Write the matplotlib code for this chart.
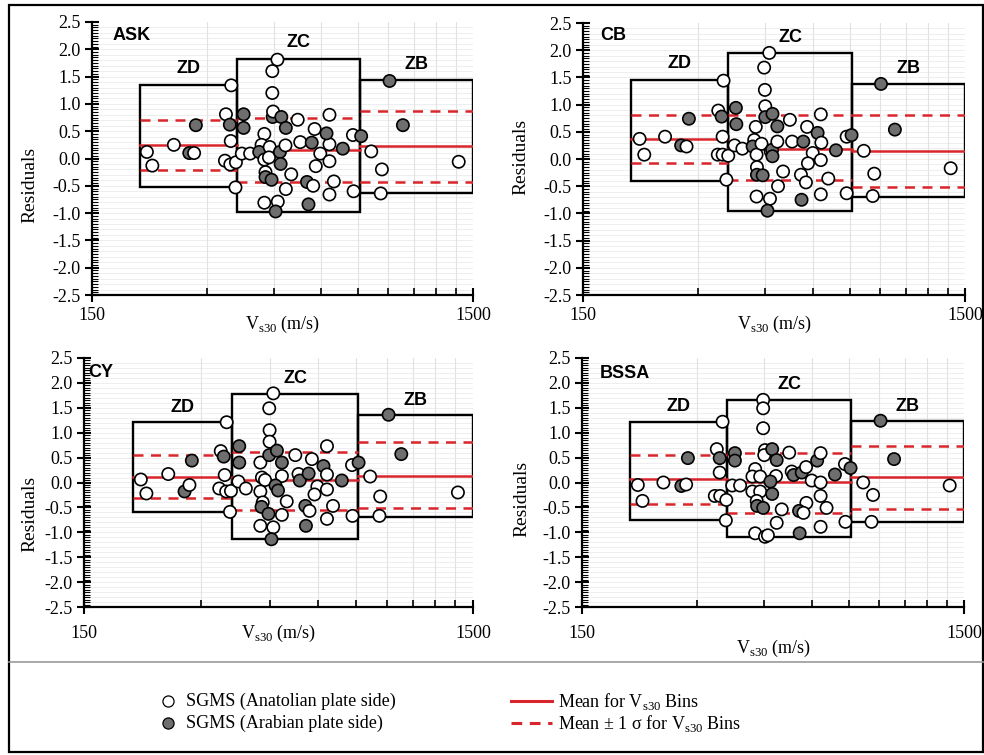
import matplotlib
matplotlib.use("Agg")
import matplotlib.pyplot as plt
from matplotlib.lines import Line2D
from matplotlib.patches import Rectangle
from matplotlib.ticker import (FixedLocator, FixedFormatter, MultipleLocator,
                               NullFormatter, FormatStrFormatter)
import numpy as np

SERIF = "Liberation Serif"
SANS = "Liberation Sans"
RED = "#d9262c"
GRAY = "#6e6e6e"

plt.rcParams["font.family"] = SERIF
plt.rcParams["mathtext.fontset"] = "custom"
plt.rcParams["mathtext.rm"] = SERIF

# --------------------------------------------------------------------------- #
# Data
# --------------------------------------------------------------------------- #
BIN_NAMES = ["ZD", "ZC", "ZB"]
BIN_EDGES = [200, 360, 760, 1500]
X_TICKS = [150, 1500]
X_MINOR = [300, 450, 600, 750, 900, 1050, 1200, 1350]

# ASK
ASK_VS30 = [209, 216, 246, 281, 270, 278, 348, 337, 345, 347, 335, 346, 358, 357,
            375, 375, 371, 390, 425, 418, 412, 425, 439, 437, 447, 448, 471, 446,
            446, 460, 467, 469, 483, 484, 428, 428, 444, 500, 484, 520, 528, 566,
            576, 596, 580, 630, 630, 619, 630, 683, 550, 571, 647, 630, 555, 425,
            461, 455, 726, 763, 729, 906, 982, 811, 865, 859, 1376]
ASK_RES = [0.12, -0.13, 0.25, 0.61, 0.10, 0.10, 1.34, 0.81, 0.62, 0.32, -0.04, -0.11, -0.07, -0.53,
           0.81, 0.56, 0.09, 0.09, 0.45, 0.25, 0.12, -0.02, 0.21, 0.02, 0.76, 0.86, 0.76, 1.20,
           1.60, 1.81, 0.12, -0.10, 0.24, 0.56, -0.25, -0.34, -0.39, -0.29, -0.56, 0.71, 0.30, 0.29,
           0.54, 0.09, -0.14, 0.26, -0.05, 0.46, 0.80, 0.18, -0.43, -0.50, -0.42, -0.66, -0.84, -0.81,
           -0.79, -0.97, 0.43, 0.41, -0.60, 1.42, 0.61, 0.13, -0.20, -0.64, -0.06]
ASK_ARAB = [0, 0, 0, 1, 1, 0, 0, 0, 1, 0, 0, 0, 0, 0,
            1, 1, 0, 0, 0, 0, 1, 0, 0, 0, 1, 0, 1, 0,
            0, 0, 1, 1, 0, 1, 0, 1, 1, 0, 0, 0, 0, 1,
            0, 0, 0, 0, 0, 1, 0, 1, 1, 0, 0, 0, 1, 0,
            0, 1, 0, 1, 0, 1, 1, 0, 0, 0, 0]
ASK_MEAN = [0.25, 0.15, 0.22]
ASK_SIG_HI = [0.70, 0.74, 0.87]
ASK_SIG_LO = [-0.21, -0.43, -0.43]
ASK_TOP = [1.35, 1.82, 1.43]
ASK_BOT = [-0.52, -0.98, -0.63]

# CB
CB_VS30 = [211, 217, 246, 284, 271, 280, 339, 346, 348, 350, 338, 348, 360, 356,
           377, 378, 374, 392, 425, 421, 417, 427, 440, 428, 428, 443, 427, 463,
           456, 449, 447, 461, 450, 450, 470, 465, 469, 470, 484, 484, 522, 501,
           486, 529, 566, 558, 575, 560, 579, 599, 582, 617, 629, 631, 629, 658,
           629, 689, 735, 757, 735, 904, 983, 815, 868, 860, 1376]
CB_RES = [0.37, 0.08, 0.41, 0.74, 0.25, 0.23, 0.89, 0.78, 0.41, 1.44, 0.08, 0.08, 0.06, -0.38,
          0.94, 0.64, 0.25, 0.19, 0.59, 0.35, 0.23, 0.08, 0.28, -0.15, -0.29, -0.30, -0.69, -0.73,
          -0.95, 1.27, 1.68, 1.95, 0.97, 0.77, 0.83, 0.14, 0.17, 0.05, 0.60, 0.32, 0.72, -0.23,
          -0.50, 0.32, 0.32, -0.29, -0.43, -0.75, 0.59, 0.11, -0.08, 0.48, 0.82, 0.30, -0.02, -0.36,
          -0.65, 0.16, 0.41, 0.44, -0.63, 1.38, 0.54, 0.15, -0.27, -0.68, -0.17]
CB_ARAB = [0, 0, 0, 1, 1, 0, 0, 1, 0, 0, 0, 0, 0, 0,
           1, 1, 0, 0, 0, 0, 1, 0, 0, 0, 1, 1, 0, 0,
           1, 0, 0, 0, 0, 1, 1, 0, 1, 1, 1, 0, 0, 0,
           0, 0, 1, 0, 0, 1, 0, 0, 0, 1, 0, 0, 0, 0,
           0, 1, 0, 1, 0, 1, 1, 0, 0, 0, 0]
CB_MEAN = [0.37, 0.19, 0.14]
CB_SIG_HI = [0.81, 0.81, 0.81]
CB_SIG_LO = [-0.08, -0.39, -0.52]
CB_TOP = [1.45, 1.94, 1.37]
CB_BOT = [-0.40, -0.95, -0.69]

# CY
CY_VS30 = [210, 217, 247, 284, 272, 280, 349, 337, 343, 345, 334, 348, 358, 356,
           376, 376, 374, 391, 426, 430, 438, 426, 432, 429, 447, 426, 460, 455,
           450, 449, 460, 450, 449, 470, 484, 484, 466, 473, 498, 484, 524, 534,
           538, 567, 578, 597, 587, 556, 570, 558, 619, 632, 632, 632, 655, 632,
           690, 733, 762, 735, 910, 981, 816, 866, 862, 1372]
CY_RES = [0.06, -0.22, 0.17, 0.44, -0.18, -0.05, 1.21, 0.63, 0.52, 0.15, -0.12, -0.18, -0.17, -0.59,
          0.73, 0.40, 0.02, -0.12, 0.40, 0.10, 0.05, -0.18, -0.40, -0.49, -0.63, -0.87, -0.90, -1.14,
          1.05, 1.49, 1.79, 0.82, 0.55, 0.64, 0.40, 0.13, -0.06, -0.16, -0.38, -0.65, 0.55, 0.17,
          0.04, 0.18, 0.47, -0.08, -0.24, -0.47, -0.57, -0.87, 0.33, 0.16, -0.14, 0.73, -0.47, -0.73,
          0.04, 0.35, 0.40, -0.67, 1.36, 0.57, 0.12, -0.28, -0.67, -0.20]
CY_ARAB = [0, 0, 0, 1, 1, 0, 0, 0, 1, 0, 0, 0, 0, 0,
           1, 1, 0, 0, 0, 0, 0, 0, 0, 1, 1, 0, 0, 1,
           0, 0, 0, 0, 1, 1, 1, 0, 1, 1, 0, 0, 0, 0,
           1, 1, 0, 0, 0, 1, 0, 1, 1, 0, 0, 0, 0, 0,
           1, 0, 1, 0, 1, 1, 0, 0, 0, 0]
CY_MEAN = [0.12, 0.05, 0.14]
CY_SIG_HI = [0.55, 0.62, 0.81]
CY_SIG_LO = [-0.32, -0.56, -0.52]
CY_TOP = [1.21, 1.78, 1.35]
CY_BOT = [-0.59, -1.14, -0.69]

# BSSA
BSSA_VS30 = [210, 216, 245, 284, 273, 281, 350, 338, 344, 344, 334, 345, 358, 357,
             377, 377, 371, 389, 426, 419, 419, 439, 439, 430, 431, 447, 426, 452,
             460, 447, 447, 447, 452, 450, 472, 485, 483, 467, 472, 500, 485, 523,
             531, 537, 564, 579, 599, 580, 555, 570, 557, 619, 632, 632, 632, 655,
             632, 689, 732, 757, 734, 907, 984, 817, 867, 859, 1376]
BSSA_RES = [-0.05, -0.37, 0.00, 0.49, -0.07, -0.04, 1.22, 0.67, 0.49, 0.20, -0.27, -0.27, -0.35, -0.76,
            0.59, 0.44, -0.06, -0.06, 0.27, 0.12, -0.18, 0.12, -0.18, -0.37, -0.47, -0.51, -1.02, -1.09,
            -1.06, 1.66, 1.49, 1.09, 0.65, 0.55, 0.67, 0.45, 0.13, 0.02, -0.23, -0.54, -0.81, 0.60,
            0.22, 0.15, 0.20, 0.31, 0.04, -0.41, -0.57, -0.61, -1.02, 0.44, 0.59, 0.00, -0.27, -0.51,
            -0.89, 0.16, 0.37, 0.29, -0.79, 1.24, 0.47, 0.00, -0.25, -0.79, -0.06]
BSSA_ARAB = [0, 0, 0, 1, 1, 0, 0, 0, 1, 0, 0, 0, 0, 0,
             1, 1, 0, 0, 0, 0, 0, 0, 0, 0, 1, 1, 0, 0,
             0, 0, 0, 0, 0, 0, 1, 1, 0, 1, 1, 0, 0, 0,
             0, 1, 1, 0, 0, 0, 1, 0, 1, 1, 0, 0, 0, 0,
             0, 1, 0, 1, 0, 1, 1, 0, 0, 0, 0]
BSSA_MEAN = [0.07, 0.01, 0.12]
BSSA_SIG_HI = [0.55, 0.59, 0.73]
BSSA_SIG_LO = [-0.43, -0.61, -0.54]
BSSA_TOP = [1.22, 1.66, 1.23]
BSSA_BOT = [-0.75, -1.10, -0.80]

# --------------------------------------------------------------------------- #
# Figure
# --------------------------------------------------------------------------- #
W, H = 984, 755
fig = plt.figure(figsize=(W / 100, H / 100), dpi=100)


def px(x, y):
    return x / W, 1 - y / H


def add_axes_px(left, top, right, bottom):
    return fig.add_axes([left / W, 1 - bottom / H, (right - left) / W, (bottom - top) / H])


def draw_panel(ax, title, vs, res, arab, mean, sig_hi, sig_lo, top, bot, tick_pad, title_xy):
    ax.set_xscale("log")
    ax.set_xlim(150, 1500)
    ax.set_ylim(-2.5, 2.5)

    for y in np.arange(-2.4, 2.45, 0.1):
        ax.axhline(y, color="#eeeeee", lw=0.7, zorder=0)
    for x in X_MINOR:
        ax.axvline(x, color="#e2e2e2", lw=0.8, zorder=0)

    for lo, hi, name, m, sh, sl, t, b in zip(BIN_EDGES[:-1], BIN_EDGES[1:], BIN_NAMES,
                                             mean, sig_hi, sig_lo, top, bot):
        ax.add_patch(Rectangle((lo, b), hi - lo, t - b, fill=False, ec="black",
                               lw=1.7, zorder=2))
        ax.plot([lo, hi], [m, m], color=RED, lw=1.8, zorder=3)
        ax.plot([lo, hi], [sh, sh], color=RED, lw=1.8, ls=(0, (4, 3)), zorder=3)
        ax.plot([lo, hi], [sl, sl], color=RED, lw=1.8, ls=(0, (4, 3)), zorder=3)
        ax.text((lo * hi) ** 0.5, t + 0.3, name, ha="center", va="center",
                fontfamily=SANS, fontweight="bold", fontsize=13)

    colors = [GRAY if a else "white" for a in arab]
    ax.scatter(vs, res, s=78, c=colors, edgecolors="black", linewidths=1.2,
               zorder=4, clip_on=False)

    ax.text(title_xy[0], title_xy[1], title, transform=ax.transAxes, ha="left",
            va="center", fontfamily=SANS, fontweight="bold", fontsize=13)

    ax.xaxis.set_major_locator(FixedLocator(X_TICKS))
    ax.xaxis.set_major_formatter(FixedFormatter([str(v) for v in X_TICKS]))
    ax.xaxis.set_minor_locator(FixedLocator(X_MINOR))
    ax.xaxis.set_minor_formatter(NullFormatter())
    ax.yaxis.set_major_locator(MultipleLocator(0.5))
    ax.yaxis.set_minor_locator(MultipleLocator(0.05))
    ax.yaxis.set_major_formatter(FormatStrFormatter("%.1f"))
    ax.tick_params(axis="x", which="major", direction="inout", length=10, width=1.5,
                   pad=tick_pad, labelsize=13)
    ax.tick_params(axis="x", which="minor", direction="in", length=5, width=1.2)
    ax.tick_params(axis="y", which="major", direction="inout", length=10, width=1.5,
                   labelsize=13, pad=3)
    ax.tick_params(axis="y", which="minor", direction="in", length=4, width=0.8)
    for side in ("top", "right"):
        ax.spines[side].set_visible(False)
    for side in ("left", "bottom"):
        ax.spines[side].set_linewidth(1.6)


panels = [
    # title, data..., axes box (l, t, r, b), tick pad, title pos, xlabel y, ylabel xy
    ("ASK", ASK_VS30, ASK_RES, ASK_ARAB, ASK_MEAN, ASK_SIG_HI, ASK_SIG_LO, ASK_TOP, ASK_BOT,
     (92, 22, 473, 295), 4, (0.055, 0.952), 324, (30, 185)),
    ("CB", CB_VS30, CB_RES, CB_ARAB, CB_MEAN, CB_SIG_HI, CB_SIG_LO, CB_TOP, CB_BOT,
     (583, 23, 965, 295), 4, (0.045, 0.955), 324, (521, 157)),
    ("CY", CY_VS30, CY_RES, CY_ARAB, CY_MEAN, CY_SIG_HI, CY_SIG_LO, CY_TOP, CY_BOT,
     (84, 358, 473, 607), 8, (0.01, 0.94), 633, (30, 514)),
    ("BSSA", BSSA_VS30, BSSA_RES, BSSA_ARAB, BSSA_MEAN, BSSA_SIG_HI, BSSA_SIG_LO, BSSA_TOP,
     BSSA_BOT, (582, 358, 964, 607), 8, (0.047, 0.936), 648, (522, 499)),
]

xlabel = r"V$_{\mathregular{s30}}$ (m/s)"
for (title, vs, res, arab, mean, hi, lo, top, bot, box, pad, txy, xl_y, yl_xy) in panels:
    ax = add_axes_px(*box)
    draw_panel(ax, title, vs, res, arab, mean, hi, lo, top, bot, pad, txy)
    fig.text(*px((box[0] + box[2]) / 2, xl_y), xlabel, ha="center", va="center", fontsize=13)
    fig.text(*px(*yl_xy), "Residuals", ha="center", va="center", rotation=90, fontsize=14)

# outer frame and separator
fig.add_artist(Rectangle(px(9, 752), (983 - 9) / W, (752 - 5) / H, transform=fig.transFigure,
                         fill=False, ec="black", lw=1.6))
fig.add_artist(Line2D([9 / W, 983 / W], [1 - 662 / H] * 2, transform=fig.transFigure,
                      color="#9a9a9a", lw=1.2))

# legend
rows = [701, 723]
fig.add_artist(Line2D([px(168, 0)[0]], [px(0, rows[0])[1]], transform=fig.transFigure,
                      marker="o", ms=8, mfc="white", mec="black", mew=0.9, ls=""))
fig.add_artist(Line2D([px(168, 0)[0]], [px(0, rows[1])[1]], transform=fig.transFigure,
                      marker="o", ms=8, mfc=GRAY, mec="black", mew=0.9, ls=""))
fig.text(*px(186, rows[0]), "SGMS (Anatolian plate side)", ha="left", va="center", fontsize=13)
fig.text(*px(186, rows[1]), "SGMS (Arabian plate side)", ha="left", va="center", fontsize=13)
fig.add_artist(Line2D([511 / W, 552 / W], [px(0, rows[0])[1]] * 2, transform=fig.transFigure,
                      color=RED, lw=2.2))
fig.add_artist(Line2D([511 / W, 552 / W], [px(0, rows[1])[1]] * 2, transform=fig.transFigure,
                      color=RED, lw=2.2, ls=(0, (3.5, 2.5))))
fig.text(*px(558, rows[0]), r"Mean for V$_{\mathregular{s30}}$ Bins", ha="left", va="center",
         fontsize=13)
fig.text(*px(558, rows[1]), r"Mean $\pm$ 1 σ for V$_{\mathregular{s30}}$ Bins", ha="left",
         va="center", fontsize=13)

fig.savefig("out.png", dpi=100)
